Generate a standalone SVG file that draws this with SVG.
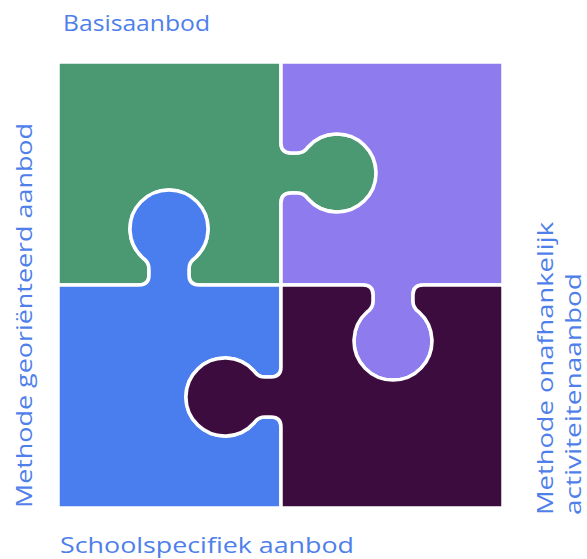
<svg xmlns="http://www.w3.org/2000/svg" width="587" height="559" viewBox="0 0 587 559">
<style>
.piece{stroke:#ffffff;stroke-width:3.5;stroke-linejoin:round}
.lbl{font-family:"Open Sans","Liberation Sans",sans-serif;font-size:22.5px;fill:#4F7FEA}
</style>
<rect width="587" height="559" fill="#ffffff"/>
<g id="pieces">
<g id="green-piece">
<path class="piece" fill="#4A9973" d="M58,62 L281,62 L281,143 Q281,153 291,153 L297,153 Q304,153 308,147 A39,39 0 1 1 308,199 Q304,193 297,193 L291,193 Q281,193 281,203 L281,285 L199,285 Q189,285 189,275 L189,269 Q189,262 195,258 A39,39 0 1 0 143,258 Q149,262 149,269 L149,275 Q149,285 139,285 L58,285 Z"/>
</g>
<g id="purple-piece">
<path class="piece" fill="#8E7CEE" d="M281,62 L503,62 L503,285 L423,285 Q413,285 413,295 L413,301 Q413,308 419,312 A39,39 0 1 1 367,312 Q373,308 373,301 L373,295 Q373,285 363,285 L281,285 L281,203 Q281,193 291,193 L297,193 Q304,193 308,199 A39,39 0 1 0 308,147 Q304,153 297,153 L291,153 Q281,153 281,143 Z"/>
</g>
<g id="blue-piece">
<path class="piece" fill="#4A7EEE" d="M58,285 L139,285 Q149,285 149,275 L149,269 Q149,262 143,258 A39,39 0 1 1 195,258 Q189,262 189,269 L189,275 Q189,285 199,285 L281,285 L281,367 Q281,377 271,377 L265,377 Q258,377 254,371 A39,39 0 1 0 254,423 Q258,417 265,417 L271,417 Q281,417 281,427 L281,508 L58,508 Z"/>
</g>
<g id="dark-piece">
<path class="piece" fill="#3D0C3F" d="M281,285 L363,285 Q373,285 373,295 L373,301 Q373,308 367,312 A39,39 0 1 0 419,312 Q413,308 413,301 L413,295 Q413,285 423,285 L503,285 L503,508 L281,508 L281,427 Q281,417 271,417 L265,417 Q258,417 254,423 A39,39 0 1 1 254,371 Q258,377 265,377 L271,377 Q281,377 281,367 Z"/>
</g>
</g>
<g id="labels">
<text class="lbl" x="63" y="31" textLength="147" lengthAdjust="spacingAndGlyphs">Basisaanbod</text>
<text class="lbl" x="60" y="553" textLength="294" lengthAdjust="spacingAndGlyphs">Schoolspecifiek aanbod</text>
<text class="lbl" transform="translate(32,508) rotate(-90)" textLength="385" lengthAdjust="spacingAndGlyphs">Methode georiënteerd aanbod</text>
<text class="lbl" transform="translate(553,515) rotate(-90)" textLength="293" lengthAdjust="spacingAndGlyphs">Methode onafhankelijk</text>
<text class="lbl" transform="translate(581,515) rotate(-90)" textLength="242" lengthAdjust="spacingAndGlyphs">activiteitenaanbod</text>
</g>
</svg>
